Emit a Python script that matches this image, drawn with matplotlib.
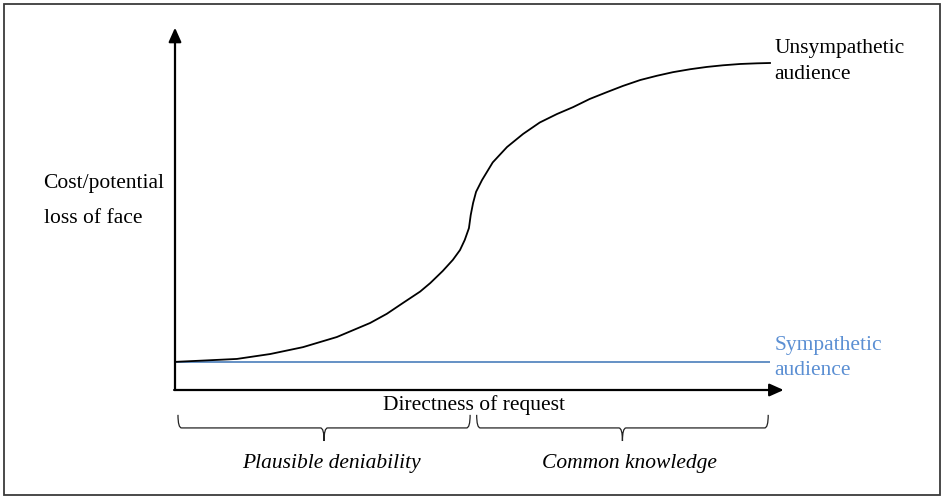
import matplotlib
matplotlib.use("Agg")
import matplotlib.pyplot as plt
from matplotlib.patches import Rectangle, PathPatch
from matplotlib.path import Path

# ---- data ----
unsym_x = [0, 4.7, 10.4, 16.0, 21.5, 27.2, 32.8, 35.6, 38.3, 41.2, 42.9, 45.0,
           46.7, 47.9, 48.7, 49.4, 49.7, 50.1, 50.6, 51.6, 53.4, 55.8, 58.5,
           61.3, 64.2, 66.9, 69.7, 72.6, 75.3, 78.2, 81.0, 83.7, 86.6, 89.4,
           92.1, 95.0, 97.8, 100]
unsym_y = [8.6, 9.0, 9.5, 11.0, 13.1, 16.2, 20.5, 23.3, 26.6, 30.1, 32.7, 36.4,
           39.8, 42.8, 45.9, 49.5, 53.5, 57.2, 60.6, 64.2, 69.6, 74.3, 78.3,
           81.8, 84.4, 86.5, 89.0, 91.1, 93.0, 94.8, 96.1, 97.2, 98.1, 98.8,
           99.3, 99.7, 99.9, 100]
sym_x = [0, 100]
sym_y = [8.6, 8.6]
unsym_label = ["Unsympathetic", "audience"]
sym_label = ["Sympathetic", "audience"]
region_labels = ["Plausible deniability", "Common knowledge"]
region_spans = [(0.5, 49.6), (50.7, 99.7)]
x_label = "Directness of request"
y_label_lines = ["Cost/potential", "loss of face"]

W, H = 941, 496
fig = plt.figure(figsize=(W / 100, H / 100), dpi=100)
plt.rcParams['font.family'] = ['Liberation Serif', 'DejaVu Serif']
FS = 15.5

# border
fig.patches.append(Rectangle((4 / W, 1.5 / H), (W - 5.5) / W, (H - 5.5) / H,
                             transform=fig.transFigure, fill=False,
                             edgecolor='#3a3a3a', linewidth=1.3))

ax = fig.add_axes([175 / W, (H - 390) / H, 595 / W, 327 / H])
ax.set_xlim(0, 100)
ax.set_ylim(0, 100)
ax.axis('off')

BLUE = '#4a7ebb'
ax.plot(sym_x, sym_y, color=BLUE, lw=1.2, solid_capstyle='butt', clip_on=False)
ax.plot(unsym_x, unsym_y, color='black', lw=1.3, clip_on=False,
        solid_joinstyle='round')

# axes arrows
ax.annotate('', xy=(0, 110.8), xytext=(0, 0),
            arrowprops=dict(arrowstyle='-|>,head_length=0.85,head_width=0.38',
                            color='black', lw=1.6, shrinkA=0, shrinkB=0),
            annotation_clip=False)
ax.annotate('', xy=(102.3, 0), xytext=(-0.15, 0),
            arrowprops=dict(arrowstyle='-|>,head_length=0.85,head_width=0.38',
                            color='black', lw=1.6, shrinkA=0, shrinkB=0),
            annotation_clip=False)

# series labels
for txt, yb in zip(unsym_label, [103.1, 95.1]):
    ax.text(100.75, yb, txt, fontsize=FS, color='black', ha='left',
            va='baseline', clip_on=False)
for txt, yb in zip(sym_label, [12.2, 4.6]):
    ax.text(100.75, yb, txt, fontsize=FS, color='#5b8fd3', ha='left',
            va='baseline', clip_on=False)

# y label
for txt, yb in zip(y_label_lines, [61.8, 51.1]):
    ax.text(-22.1, yb, txt, fontsize=FS, ha='left', va='baseline',
            clip_on=False)

# x label
ax.text(50.2, -6.1, x_label, fontsize=FS, ha='center', va='baseline',
        clip_on=False)

# braces
def brace(x0, x1):
    y_top, y_mid, y_tip = -7.6, -11.6, -15.6
    xm = (x0 + x1) / 2
    r = 0.6
    codes = [Path.MOVETO, Path.CURVE3, Path.CURVE3,
             Path.LINETO, Path.CURVE3, Path.CURVE3,
             Path.MOVETO, Path.CURVE3, Path.CURVE3,
             Path.LINETO, Path.CURVE3, Path.CURVE3]
    verts = [(x0, y_top), (x0, y_mid), (x0 + r, y_mid),
             (xm - r, y_mid), (xm, y_mid), (xm, y_tip),
             (xm, y_tip), (xm, y_mid), (xm + r, y_mid),
             (x1 - r, y_mid), (x1, y_mid), (x1, y_top)]
    p = PathPatch(Path(verts, codes), fill=False, edgecolor='#222222',
                  lw=0.9, clip_on=False)
    ax.add_patch(p)

for (a, b), lab in zip(region_spans, region_labels):
    brace(a, b)
    ax.text((a + b) / 2 + 1.2, -23.9, lab, fontsize=FS, style='italic',
            ha='center', va='baseline', clip_on=False)

fig.savefig('out.png', dpi=100)
